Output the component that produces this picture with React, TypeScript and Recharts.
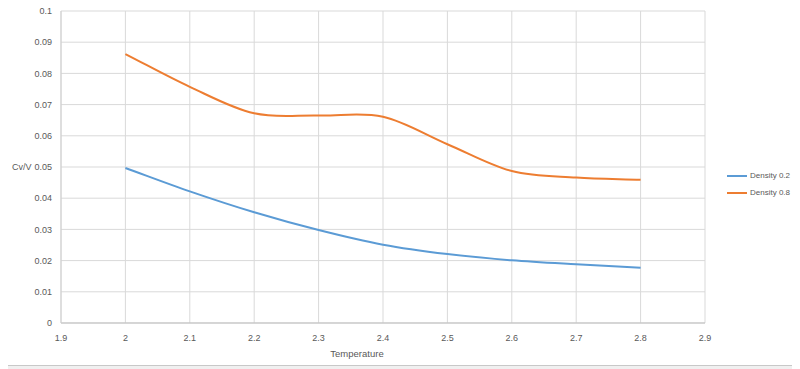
import React from 'react';
import { LineChart, Line, XAxis, YAxis, CartesianGrid } from 'recharts';

const temperatures = [2.0, 2.1, 2.2, 2.3, 2.4, 2.5, 2.6, 2.7, 2.8];
const density02 = [0.0497, 0.0422, 0.0355, 0.0298, 0.0251, 0.0221, 0.0201, 0.0188, 0.0177];
const density08 = [0.0862, 0.0757, 0.0672, 0.0665, 0.0661, 0.0573, 0.0487, 0.0466, 0.0459];
const xTicks = [1.9, 2, 2.1, 2.2, 2.3, 2.4, 2.5, 2.6, 2.7, 2.8, 2.9];
const yTicks = [0, 0.01, 0.02, 0.03, 0.04, 0.05, 0.06, 0.07, 0.08, 0.09, 0.1];
const seriesNames = ['Density 0.2', 'Density 0.8'];
const seriesColors = ['#5b9bd5', '#ed7d31'];

const data = temperatures.map((t, i) => ({ t, d02: density02[i], d08: density08[i] }));

// Excel-like smoothed line (Catmull-Rom with one-sided end tangents)
const excelSmooth = (context: any) => {
  let pts: [number, number][] = [];
  return {
    areaStart() {},
    areaEnd() {},
    lineStart() {
      pts = [];
    },
    point(x: number, y: number) {
      pts.push([+x, +y]);
    },
    lineEnd() {
      const n = pts.length;
      if (!n) return;
      context.moveTo(pts[0][0], pts[0][1]);
      if (n === 1) return;
      const tan = pts.map((p, i) => {
        const a = pts[Math.max(0, i - 1)];
        const b = pts[Math.min(n - 1, i + 1)];
        const d = i === 0 || i === n - 1 ? 1 : 0.5;
        return [(b[0] - a[0]) * d, (b[1] - a[1]) * d];
      });
      for (let i = 0; i < n - 1; i++) {
        const p0 = pts[i];
        const p1 = pts[i + 1];
        context.bezierCurveTo(
          p0[0] + tan[i][0] / 3,
          p0[1] + tan[i][1] / 3,
          p1[0] - tan[i + 1][0] / 3,
          p1[1] - tan[i + 1][1] / 3,
          p1[0],
          p1[1]
        );
      }
    },
  };
};

const FONT = "'Liberation Sans', Arial, sans-serif";
const TEXT = '#595959';

const LegendBox = () => (
  <div style={{ position: 'absolute', left: 727, top: 167, width: 72, fontFamily: FONT, fontSize: 8, color: TEXT, whiteSpace: 'nowrap' }}>
    {seriesNames.map((name, i) => (
      <div key={name} style={{ display: 'flex', alignItems: 'center', height: 17 }}>
        <div style={{ width: 20, height: 2, background: seriesColors[i], marginRight: 3, flexShrink: 0 }} />
        <span>{name}</span>
      </div>
    ))}
  </div>
);

export default function App() {
  return (
    <div style={{ marginLeft: -8, marginTop: -8, width: 800, height: 369, background: '#f0f0f0', position: 'relative', overflow: 'visible' }}>
      <div
        style={{
          position: 'absolute',
          left: 0,
          top: 0,
          width: 800,
          height: 366,
          background: '#fff',
          borderTop: '1px solid #d9d9d9',
          borderRight: '1px solid #d9d9d9',
          borderBottom: '1px solid #c8c8c8',
          boxSizing: 'border-box',
        }}
      />
      <div style={{ position: 'absolute', left: 0, top: 0 }}>
        <LineChart width={800} height={369} data={data} margin={{ top: 11, right: 95, bottom: 0, left: 0 }}>
          <CartesianGrid stroke="#d9d9d9" strokeWidth={1} />
          <XAxis
            dataKey="t"
            type="number"
            domain={[1.9, 2.9]}
            ticks={xTicks}
            interval={0}
            height={46}
            tickLine={false}
            axisLine={{ stroke: '#bfbfbf' }}
            tick={{ fill: TEXT, fontSize: 9, fontFamily: FONT }}
            tickMargin={6}
            tickFormatter={(v: number) => String(+v.toFixed(1))}
            label={{ value: 'Temperature', position: 'insideBottom', offset: 12, dx: -26, fill: TEXT, fontSize: 9.5, fontFamily: FONT }}
          />
          <YAxis
            type="number"
            domain={[0, 0.1]}
            ticks={yTicks}
            interval={0}
            width={61}
            tickLine={false}
            axisLine={{ stroke: '#d0d0d0' }}
            tick={{ fill: TEXT, fontSize: 9, fontFamily: FONT }}
            tickMargin={3}
            tickFormatter={(v: number) => String(+v.toFixed(2))}
            label={{ value: 'Cv/V', position: 'insideLeft', offset: 12, fill: TEXT, fontSize: 9, fontFamily: FONT }}
          />
          <Line
            dataKey="d02"
            name={seriesNames[0]}
            stroke={seriesColors[0]}
            strokeWidth={2}
            dot={false}
            type={excelSmooth as any}
            isAnimationActive={false}
          />
          <Line
            dataKey="d08"
            name={seriesNames[1]}
            stroke={seriesColors[1]}
            strokeWidth={2}
            dot={false}
            type={excelSmooth as any}
            isAnimationActive={false}
          />
        </LineChart>
      </div>
      <LegendBox />
    </div>
  );
}
